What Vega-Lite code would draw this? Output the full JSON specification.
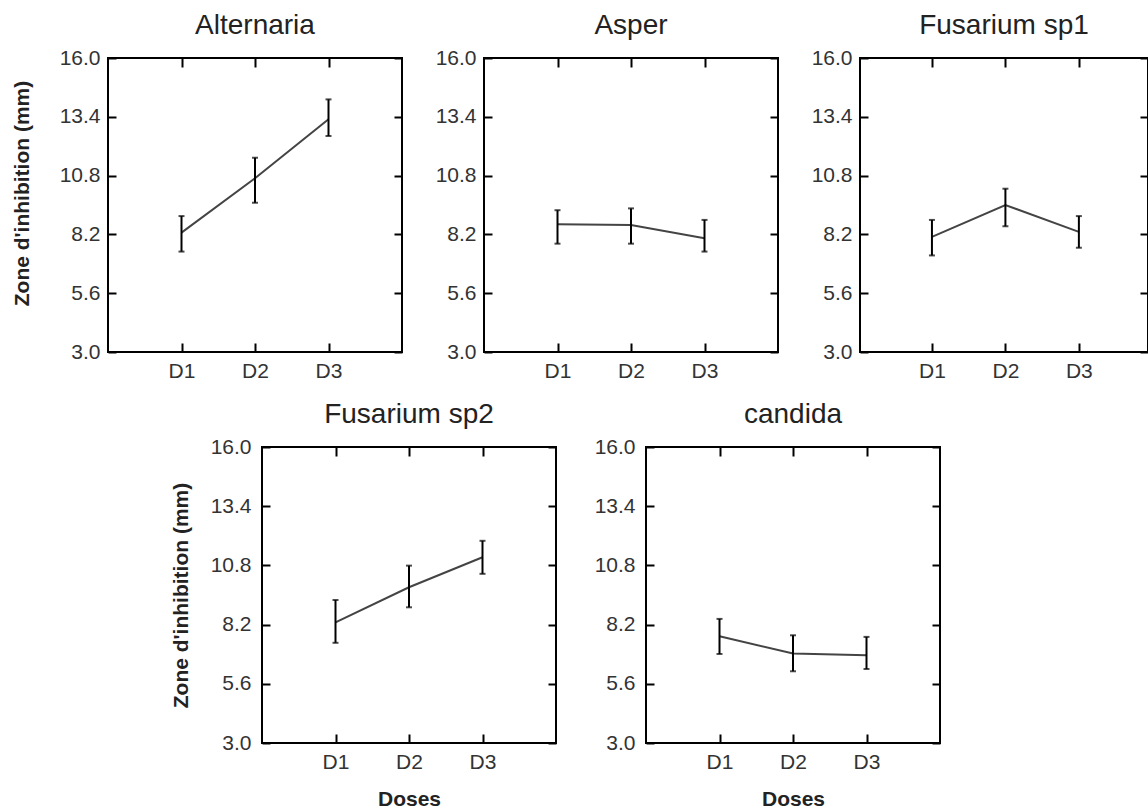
{
  "$schema": "https://vega.github.io/schema/vega-lite/v6.json",
  "padding": {"left": 10, "top": 11, "right": 0, "bottom": 0},
  "background": "white",
  "data": {"values": [
    {"org": "Alternaria", "dose": "D1", "mean": 8.28, "lo": 7.44, "hi": 9.01},
    {"org": "Alternaria", "dose": "D2", "mean": 10.68, "lo": 9.6, "hi": 11.59},
    {"org": "Alternaria", "dose": "D3", "mean": 13.29, "lo": 12.55, "hi": 14.17},
    {"org": "Asper", "dose": "D1", "mean": 8.65, "lo": 7.79, "hi": 9.27},
    {"org": "Asper", "dose": "D2", "mean": 8.62, "lo": 7.79, "hi": 9.35},
    {"org": "Asper", "dose": "D3", "mean": 8.03, "lo": 7.44, "hi": 8.84},
    {"org": "Fusarium sp1", "dose": "D1", "mean": 8.09, "lo": 7.27, "hi": 8.84},
    {"org": "Fusarium sp1", "dose": "D2", "mean": 9.5, "lo": 8.56, "hi": 10.22},
    {"org": "Fusarium sp1", "dose": "D3", "mean": 8.31, "lo": 7.61, "hi": 9.01},
    {"org": "Fusarium sp2", "dose": "D1", "mean": 8.3, "lo": 7.4, "hi": 9.28},
    {"org": "Fusarium sp2", "dose": "D2", "mean": 9.84, "lo": 8.96, "hi": 10.79},
    {"org": "Fusarium sp2", "dose": "D3", "mean": 11.16, "lo": 10.43, "hi": 11.88},
    {"org": "candida", "dose": "D1", "mean": 7.69, "lo": 6.91, "hi": 8.45},
    {"org": "candida", "dose": "D2", "mean": 6.93, "lo": 6.15, "hi": 7.73},
    {"org": "candida", "dose": "D3", "mean": 6.85, "lo": 6.25, "hi": 7.66}
  ]},
  "bounds": "full",
  "spacing": 18,
  "vconcat": [
    {
      "bounds": "flush",
      "spacing": 82,
      "hconcat": [
        {
          "width": 294, "height": 294,
          "title": "Alternaria",
          "transform": [{"filter": "datum.org === 'Alternaria'"}],
          "resolve": {"axis": {"x": "independent", "y": "independent"}},
          "layer": [
            {"mark": {"type": "line", "color": "#444", "strokeWidth": 2},
             "encoding": {
               "x": {"field": "dose", "type": "ordinal", "scale": {"type": "point", "padding": 1}, "axis": {"orient": "bottom", "title": null, "labelAngle": 0, "tickSize": -9, "labelPadding": 17}},
               "y": {"field": "mean", "type": "quantitative", "scale": {"domain": [3, 16], "nice": false, "zero": false}, "axis": {"orient": "left", "title": "Zone d'inhibition (mm)", "values": [3, 5.6, 8.2, 10.8, 13.4, 16], "format": ".1f", "tickSize": -8, "labelPadding": 16, "titlePadding": 27, "titleY": 135}}
             }},
            {"mark": {"type": "rule", "color": "black", "strokeWidth": 2},
             "encoding": {"x": {"field": "dose", "type": "ordinal", "axis": null}, "y": {"field": "lo", "type": "quantitative", "axis": null}, "y2": {"field": "hi"}}},
            {"mark": {"type": "tick", "orient": "horizontal", "color": "black", "size": 6, "thickness": 2},
             "encoding": {"x": {"field": "dose", "type": "ordinal", "axis": null}, "y": {"field": "lo", "type": "quantitative", "axis": null}}},
            {"mark": {"type": "tick", "orient": "horizontal", "color": "black", "size": 6, "thickness": 2},
             "encoding": {"x": {"field": "dose", "type": "ordinal", "axis": null}, "y": {"field": "hi", "type": "quantitative", "axis": null}}},
            {"mark": {"type": "line", "opacity": 0},
             "encoding": {
               "x": {"field": "dose", "type": "ordinal", "axis": {"orient": "top", "labels": false, "title": null, "tickSize": -9}},
               "y": {"field": "mean", "type": "quantitative", "axis": {"orient": "right", "labels": false, "title": null, "values": [3, 5.6, 8.2, 10.8, 13.4, 16], "tickSize": -8}}
             }}
          ]
        },
        {
          "width": 294, "height": 294,
          "title": "Asper",
          "transform": [{"filter": "datum.org === 'Asper'"}],
          "resolve": {"axis": {"x": "independent", "y": "independent"}},
          "layer": [
            {"mark": {"type": "line", "color": "#444", "strokeWidth": 2},
             "encoding": {
               "x": {"field": "dose", "type": "ordinal", "scale": {"type": "point", "padding": 1}, "axis": {"orient": "bottom", "title": null, "labelAngle": 0, "tickSize": -9, "labelPadding": 17}},
               "y": {"field": "mean", "type": "quantitative", "scale": {"domain": [3, 16], "nice": false, "zero": false}, "axis": {"orient": "left", "title": null, "values": [3, 5.6, 8.2, 10.8, 13.4, 16], "format": ".1f", "tickSize": -8, "labelPadding": 16}}
             }},
            {"mark": {"type": "rule", "color": "black", "strokeWidth": 2},
             "encoding": {"x": {"field": "dose", "type": "ordinal", "axis": null}, "y": {"field": "lo", "type": "quantitative", "axis": null}, "y2": {"field": "hi"}}},
            {"mark": {"type": "tick", "orient": "horizontal", "color": "black", "size": 6, "thickness": 2},
             "encoding": {"x": {"field": "dose", "type": "ordinal", "axis": null}, "y": {"field": "lo", "type": "quantitative", "axis": null}}},
            {"mark": {"type": "tick", "orient": "horizontal", "color": "black", "size": 6, "thickness": 2},
             "encoding": {"x": {"field": "dose", "type": "ordinal", "axis": null}, "y": {"field": "hi", "type": "quantitative", "axis": null}}},
            {"mark": {"type": "line", "opacity": 0},
             "encoding": {
               "x": {"field": "dose", "type": "ordinal", "axis": {"orient": "top", "labels": false, "title": null, "tickSize": -9}},
               "y": {"field": "mean", "type": "quantitative", "axis": {"orient": "right", "labels": false, "title": null, "values": [3, 5.6, 8.2, 10.8, 13.4, 16], "tickSize": -8}}
             }}
          ]
        },
        {
          "width": 288, "height": 294,
          "title": "Fusarium sp1",
          "transform": [{"filter": "datum.org === 'Fusarium sp1'"}],
          "resolve": {"axis": {"x": "independent", "y": "independent"}},
          "layer": [
            {"mark": {"type": "line", "color": "#444", "strokeWidth": 2},
             "encoding": {
               "x": {"field": "dose", "type": "ordinal", "scale": {"type": "point", "padding": 0.96, "align": 0.51}, "axis": {"orient": "bottom", "title": null, "labelAngle": 0, "tickSize": -9, "labelPadding": 17}},
               "y": {"field": "mean", "type": "quantitative", "scale": {"domain": [3, 16], "nice": false, "zero": false}, "axis": {"orient": "left", "title": null, "values": [3, 5.6, 8.2, 10.8, 13.4, 16], "format": ".1f", "tickSize": -8, "labelPadding": 16}}
             }},
            {"mark": {"type": "rule", "color": "black", "strokeWidth": 2},
             "encoding": {"x": {"field": "dose", "type": "ordinal", "axis": null}, "y": {"field": "lo", "type": "quantitative", "axis": null}, "y2": {"field": "hi"}}},
            {"mark": {"type": "tick", "orient": "horizontal", "color": "black", "size": 6, "thickness": 2},
             "encoding": {"x": {"field": "dose", "type": "ordinal", "axis": null}, "y": {"field": "lo", "type": "quantitative", "axis": null}}},
            {"mark": {"type": "tick", "orient": "horizontal", "color": "black", "size": 6, "thickness": 2},
             "encoding": {"x": {"field": "dose", "type": "ordinal", "axis": null}, "y": {"field": "hi", "type": "quantitative", "axis": null}}},
            {"mark": {"type": "line", "opacity": 0},
             "encoding": {
               "x": {"field": "dose", "type": "ordinal", "axis": {"orient": "top", "labels": false, "title": null, "tickSize": -9}},
               "y": {"field": "mean", "type": "quantitative", "axis": {"orient": "right", "labels": false, "title": null, "values": [3, 5.6, 8.2, 10.8, 13.4, 16], "tickSize": -8}}
             }}
          ]
        }
      ]
    },
    {
      "bounds": "flush",
      "spacing": 90,
      "hconcat": [
        {
          "width": 64, "height": 296,
          "view": {"stroke": null},
          "transform": [{"filter": "false"}],
          "mark": {"type": "point", "opacity": 0},
          "encoding": {}
        },
        {
          "width": 294, "height": 296,
          "title": "Fusarium sp2",
          "transform": [{"filter": "datum.org === 'Fusarium sp2'"}],
          "resolve": {"axis": {"x": "independent", "y": "independent"}},
          "layer": [
            {"mark": {"type": "line", "color": "#444", "strokeWidth": 2},
             "encoding": {
               "x": {"field": "dose", "type": "ordinal", "scale": {"type": "point", "padding": 1}, "axis": {"orient": "bottom", "title": "Doses", "labelAngle": 0, "tickSize": -9, "labelPadding": 17, "titlePadding": 16}},
               "y": {"field": "mean", "type": "quantitative", "scale": {"domain": [3, 16], "nice": false, "zero": false}, "axis": {"orient": "left", "title": "Zone d'inhibition (mm)", "values": [3, 5.6, 8.2, 10.8, 13.4, 16], "format": ".1f", "tickSize": -8, "labelPadding": 19, "titlePadding": 19}}
             }},
            {"mark": {"type": "rule", "color": "black", "strokeWidth": 2},
             "encoding": {"x": {"field": "dose", "type": "ordinal", "axis": null}, "y": {"field": "lo", "type": "quantitative", "axis": null}, "y2": {"field": "hi"}}},
            {"mark": {"type": "tick", "orient": "horizontal", "color": "black", "size": 6, "thickness": 2},
             "encoding": {"x": {"field": "dose", "type": "ordinal", "axis": null}, "y": {"field": "lo", "type": "quantitative", "axis": null}}},
            {"mark": {"type": "tick", "orient": "horizontal", "color": "black", "size": 6, "thickness": 2},
             "encoding": {"x": {"field": "dose", "type": "ordinal", "axis": null}, "y": {"field": "hi", "type": "quantitative", "axis": null}}},
            {"mark": {"type": "line", "opacity": 0},
             "encoding": {
               "x": {"field": "dose", "type": "ordinal", "axis": {"orient": "top", "labels": false, "title": null, "tickSize": -9}},
               "y": {"field": "mean", "type": "quantitative", "axis": {"orient": "right", "labels": false, "title": null, "values": [3, 5.6, 8.2, 10.8, 13.4, 16], "tickSize": -8}}
             }}
          ]
        },
        {
          "width": 294, "height": 296,
          "title": "candida",
          "transform": [{"filter": "datum.org === 'candida'"}],
          "resolve": {"axis": {"x": "independent", "y": "independent"}},
          "layer": [
            {"mark": {"type": "line", "color": "#444", "strokeWidth": 2},
             "encoding": {
               "x": {"field": "dose", "type": "ordinal", "scale": {"type": "point", "padding": 1}, "axis": {"orient": "bottom", "title": "Doses", "labelAngle": 0, "tickSize": -9, "labelPadding": 17, "titlePadding": 16}},
               "y": {"field": "mean", "type": "quantitative", "scale": {"domain": [3, 16], "nice": false, "zero": false}, "axis": {"orient": "left", "title": null, "values": [3, 5.6, 8.2, 10.8, 13.4, 16], "format": ".1f", "tickSize": -8, "labelPadding": 19}}
             }},
            {"mark": {"type": "rule", "color": "black", "strokeWidth": 2},
             "encoding": {"x": {"field": "dose", "type": "ordinal", "axis": null}, "y": {"field": "lo", "type": "quantitative", "axis": null}, "y2": {"field": "hi"}}},
            {"mark": {"type": "tick", "orient": "horizontal", "color": "black", "size": 6, "thickness": 2},
             "encoding": {"x": {"field": "dose", "type": "ordinal", "axis": null}, "y": {"field": "lo", "type": "quantitative", "axis": null}}},
            {"mark": {"type": "tick", "orient": "horizontal", "color": "black", "size": 6, "thickness": 2},
             "encoding": {"x": {"field": "dose", "type": "ordinal", "axis": null}, "y": {"field": "hi", "type": "quantitative", "axis": null}}},
            {"mark": {"type": "line", "opacity": 0},
             "encoding": {
               "x": {"field": "dose", "type": "ordinal", "axis": {"orient": "top", "labels": false, "title": null, "tickSize": -9}},
               "y": {"field": "mean", "type": "quantitative", "axis": {"orient": "right", "labels": false, "title": null, "values": [3, 5.6, 8.2, 10.8, 13.4, 16], "tickSize": -8}}
             }}
          ]
        }
      ]
    }
  ],
  "config": {
    "view": {"stroke": "black", "strokeWidth": 2},
    "axis": {"grid": false, "domain": false, "tickColor": "black", "tickWidth": 2, "labelFont": "Liberation Sans", "labelFontSize": 21, "labelColor": "#333", "titleFont": "Liberation Sans", "titleFontSize": 21, "titleFontWeight": "bold", "titleColor": "#222"},
    "title": {"font": "Liberation Sans", "fontSize": 28, "fontWeight": "normal", "color": "#222", "offset": 7}
  }
}
